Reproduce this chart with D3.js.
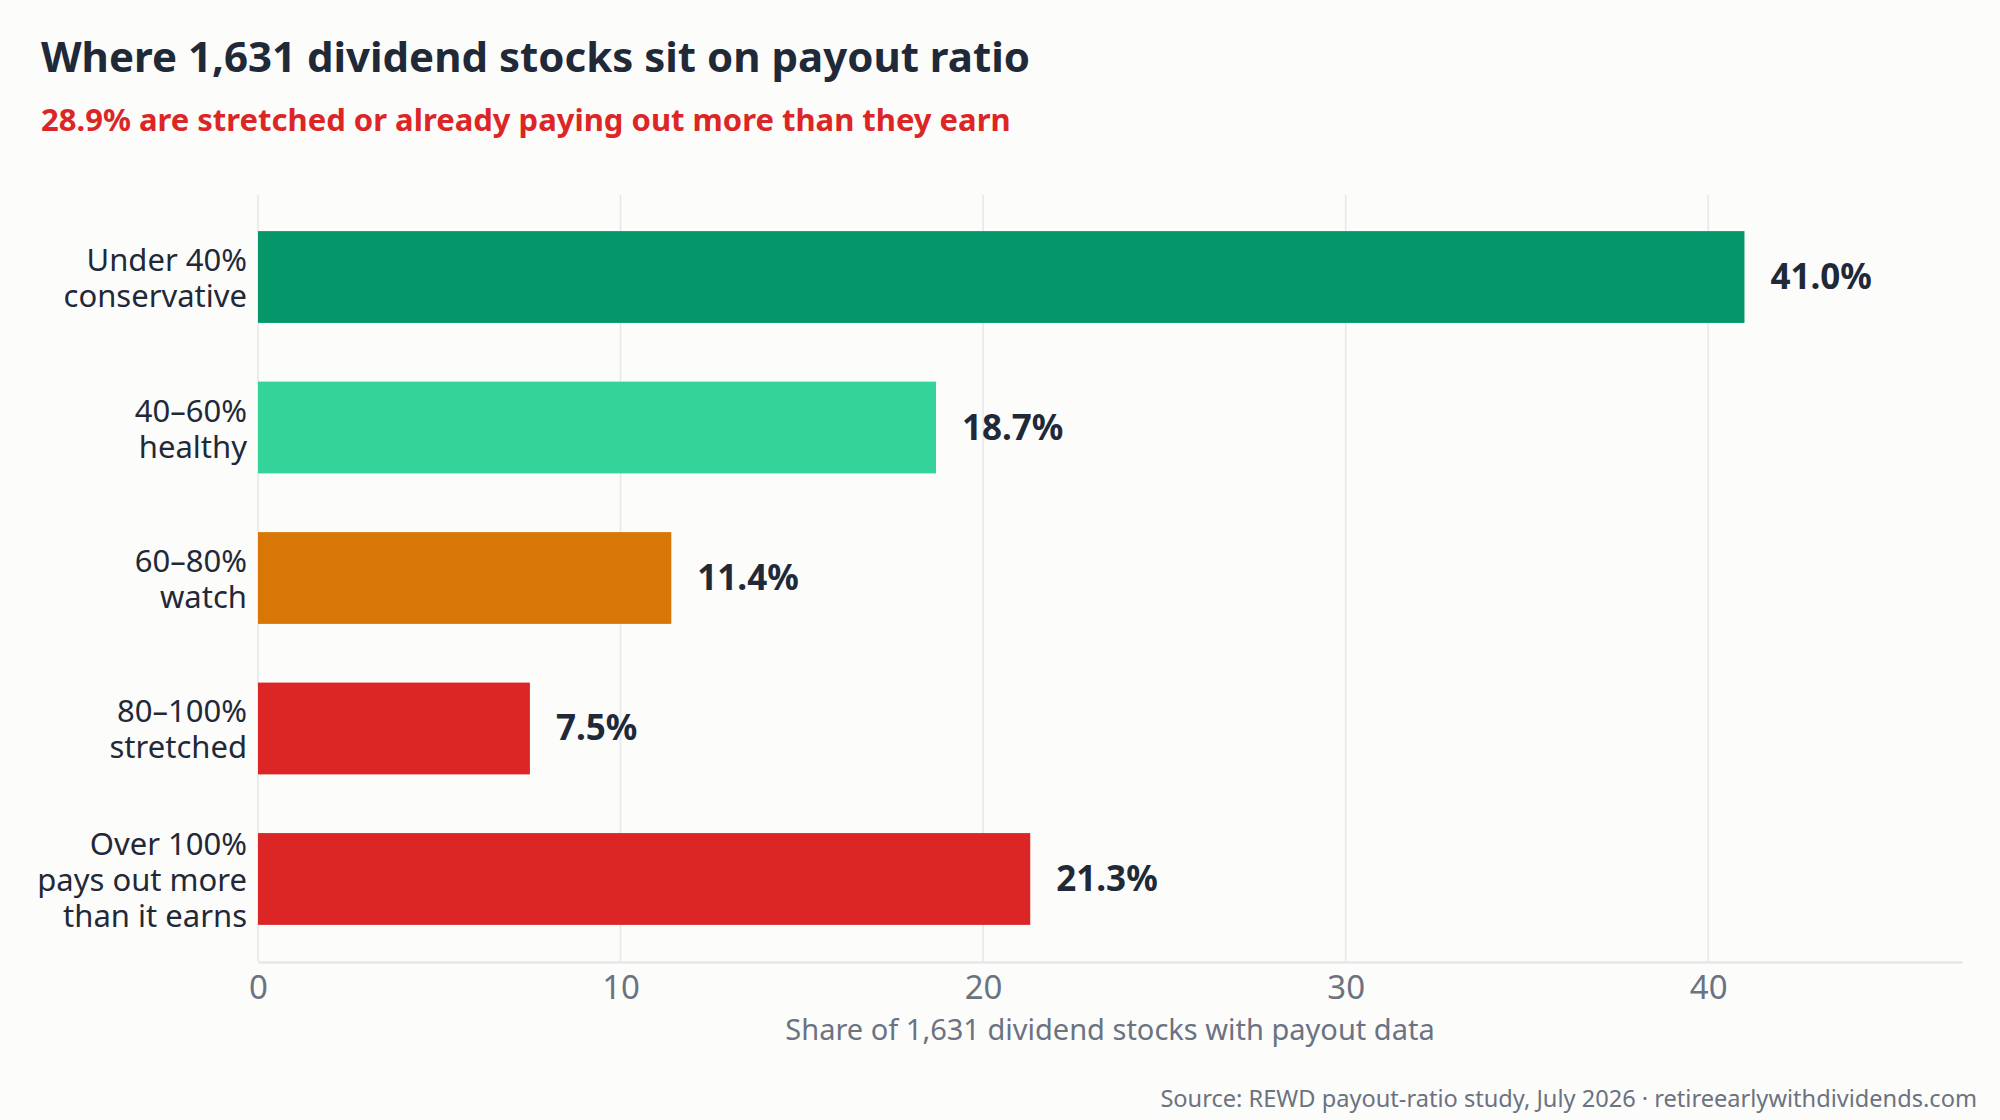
<!DOCTYPE html>
<html>
<head>
<meta charset="utf-8">
<script src="https://cdn.jsdelivr.net/npm/d3@7"></script>
<style>
  html, body { margin: 0; padding: 0; background: #fcfcfb; }
  svg text { font-family: "Noto Sans", sans-serif; }
</style>
</head>
<body>
<div id="chart"></div>
<script>
// chart data
const categories = [
  ["Under 40%", "conservative"],
  ["40–60%", "healthy"],
  ["60–80%", "watch"],
  ["80–100%", "stretched"],
  ["Over 100%", "pays out more", "than it earns"]
];
const shares = [41.0, 18.7, 11.4, 7.5, 21.3];
const barColors = ["#059669", "#34d399", "#d97706", "#dc2626", "#dc2626"];
const tickValues = [0, 10, 20, 30, 40];

const titleText = "Where 1,631 dividend stocks sit on payout ratio";
const subtitleText = "28.9% are stretched or already paying out more than they earn";
const xTitle = "Share of 1,631 dividend stocks with payout data";
const sourceText = "Source: REWD payout-ratio study, July 2026 · retireearlywithdividends.com";

const W = 2000, H = 1120;
const margin = { top: 195, right: 38, bottom: 158, left: 258 };

let svg = d3.select("#chart")
    .append("svg")
    .attr("width", W)
    .attr("height", H);

svg.append("rect")
    .attr("width", W)
    .attr("height", H)
    .attr("fill", "#fcfcfb");

// scales
let x = d3.scaleLinear()
    .domain([0, 47])
    .range([margin.left, W - margin.right]);

let y = d3.scaleBand()
    .domain(d3.range(categories.length))
    .range([margin.top, H - margin.bottom - 1])
    .paddingInner(0.39)
    .paddingOuter(0.24);

// gridlines
svg.append("g")
    .selectAll("line")
    .data(tickValues)
    .enter()
    .append("line")
    .attr("x1", d => x(d))
    .attr("x2", d => x(d))
    .attr("y1", margin.top)
    .attr("y2", H - margin.bottom)
    .attr("stroke", "#e5e7eb")
    .attr("stroke-width", 1.5);

// bars
svg.append("g")
    .selectAll("rect")
    .data(shares)
    .enter()
    .append("rect")
    .attr("x", x(0))
    .attr("y", (d, i) => y(i))
    .attr("width", d => x(d) - x(0))
    .attr("height", y.bandwidth())
    .attr("fill", (d, i) => barColors[i]);

// value labels
svg.append("g")
    .selectAll("text")
    .data(shares)
    .enter()
    .append("text")
    .attr("x", d => x(d) + 26)
    .attr("y", (d, i) => y(i) + y.bandwidth() / 2 + 12)
    .attr("font-size", 35)
    .attr("font-weight", 700)
    .attr("fill", "#1f2937")
    .text(d => d.toFixed(1) + "%");

// category labels, one text per line
let catG = svg.append("g");
categories.forEach((lines, i) => {
    let cy = y(i) + y.bandwidth() / 2;
    lines.forEach((line, j) => {
        catG.append("text")
            .attr("x", 247)
            .attr("y", cy + (j - (lines.length - 1) / 2) * 36 + 12)
            .attr("text-anchor", "end")
            .attr("font-size", 31)
            .attr("fill", "#1f2937")
            .text(line);
    });
});

// x axis
let xAxis = svg.append("g")
    .attr("transform", "translate(0," + (H - margin.bottom) + ")")
    .call(d3.axisBottom(x).tickValues(tickValues).tickSize(0).tickPadding(14));
xAxis.select(".domain")
    .attr("stroke", "#e5e7eb")
    .attr("stroke-width", 2.5);
xAxis.selectAll("text")
    .attr("font-size", 33)
    .attr("font-family", "Noto Sans, sans-serif")
    .attr("fill", "#6b7280");

svg.append("text")
    .attr("x", (x.range()[0] + x.range()[1]) / 2)
    .attr("y", 1040)
    .attr("text-anchor", "middle")
    .attr("font-size", 29)
    .attr("fill", "#6b7280")
    .text(xTitle);

// titles
svg.append("text")
    .attr("x", 41)
    .attr("y", 72)
    .attr("font-size", 42)
    .attr("font-weight", 700)
    .attr("fill", "#1f2937")
    .text(titleText);

svg.append("text")
    .attr("x", 41)
    .attr("y", 131)
    .attr("font-size", 31)
    .attr("font-weight", 700)
    .attr("fill", "#dc2626")
    .text(subtitleText);

// source
svg.append("text")
    .attr("x", 1977)
    .attr("y", 1107)
    .attr("text-anchor", "end")
    .attr("font-size", 23.6)
    .attr("fill", "#6b7280")
    .text(sourceText);
</script>
</body>
</html>
